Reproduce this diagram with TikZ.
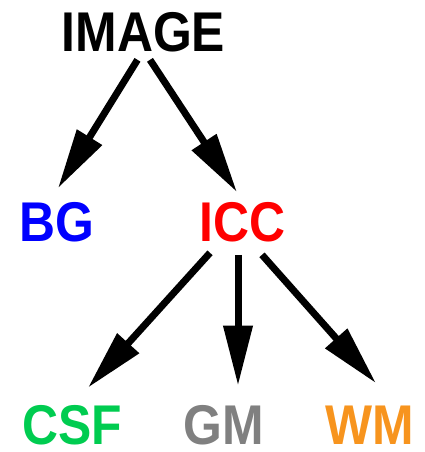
\documentclass[tikz,border=0pt]{standalone}
\usepackage{fontspec}
\setmainfont{Liberation Sans}
\usetikzlibrary{arrows.meta,calc}

\newcommand{\seglabel}[1]{\scalebox{0.89}[1]{\fontsize{42}{50}\selectfont\bfseries #1}}
\definecolor{csfgreen}{RGB}{0,204,80}
\definecolor{gmgray}{RGB}{128,128,128}
\definecolor{wmorange}{RGB}{247,148,30}

\tikzset{every picture/.style={line width=0.75pt}}
\tikzset{
  seg/.style={inner sep=0pt, outer sep=0pt},
  split/.style={line width=5.25pt, -{Triangle[length=45pt,width=21pt]}},
}

\begin{document}
\begin{tikzpicture}[x=0.75pt,y=0.75pt,yscale=-1,xscale=1]
\useasboundingbox (0,0) rectangle (424,452);

% Text Node
\node [seg] (image) at (143.5,32) {\seglabel{IMAGE}};
% Text Node
\node [seg, text=blue] (bg) at (56.5,222) {\seglabel{BG}};
% Text Node
\node [seg, text=red] (icc) at (242.5,222) {\seglabel{ICC}};
% Text Node
\node [seg, text=csfgreen] (csf) at (72,425.5) {\seglabel{CSF}};
% Text Node
\node [seg, text=gmgray] (gm) at (224,425.5) {\seglabel{GM}};
% Text Node
\node [seg, text=wmorange] (wm) at (370,425.5) {\seglabel{WM}};

%Straight Lines
\draw [split] ($(image.south)+(-6,8)$) -- ($(bg.north)+(1.5,-14)$) ;
%Straight Lines
\draw [split] ($(image.south)+(6.5,8)$) -- ($(icc.north)+(-5.5,-10)$) ;
%Straight Lines
\draw [split] ($(icc.south)+(-32.5,11)$) -- ($(csf.north)+(16,-18)$) ;
%Straight Lines
\draw [split] ($(icc.south)+(-4.5,13)$) -- ($(gm.north)+(14,-20)$) ;
%Straight Lines
\draw [split] ($(icc.south)+(19.5,13)$) -- ($(wm.north)+(6,-23)$) ;

\end{tikzpicture}
\end{document}
